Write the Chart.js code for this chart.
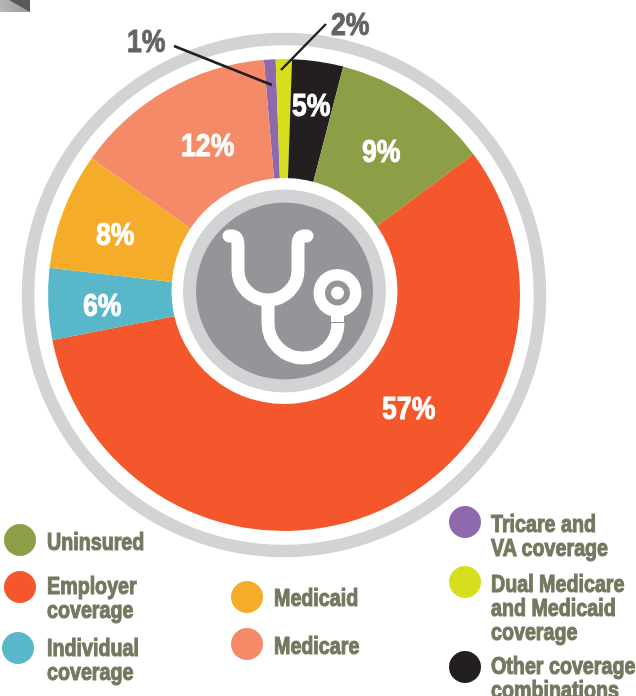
<!DOCTYPE html>
<html>
<head>
<meta charset="utf-8">
<script src="https://cdn.jsdelivr.net/npm/chart.js@4"></script>
<style>
  html, body { margin: 0; padding: 0; background: #fff; }
  #wrap { position: relative; width: 636px; height: 696px; overflow: hidden; }
  #wrap canvas { position: absolute; left: 0; top: 0; }
  .t { position: absolute; font-family: "Liberation Sans", sans-serif; font-weight: 700; white-space: pre; transform-origin: 0 0; }
  .pct { font-size: 31px; line-height: 31px; -webkit-text-stroke: 0.9px currentColor; transform: scaleX(0.86); }
  .leg { font-size: 24px; line-height: 24px; color: #74785f; -webkit-text-stroke: 1.1px currentColor; transform: scaleX(0.82); }
  .dot { position: absolute; width: 32px; height: 32px; border-radius: 50%; }
  #corner, #corner2 { position: absolute; left: 0; top: 0; width: 30px; height: 12px; }
  #corner { background: linear-gradient(90deg, #b5b6b8, #9a9b9d); }
  #corner2 { background: #58595b; clip-path: polygon(30% 0, 100% 0, 100% 100%); }
</style>
</head>
<body>
<div id="wrap">
  <div id="corner"></div>
  <div id="corner2"></div>
  <canvas id="grafica" width="636" height="696"></canvas>
</div>
<script>
const categorias = ['Tricare and VA coverage', 'Dual Medicare and Medicaid coverage', 'Other coverage combinations', 'Uninsured', 'Employer coverage', 'Individual coverage', 'Medicaid', 'Medicare'];
const valores = [0.8, 1.1, 3.5, 10.8, 57.1, 4.9, 8, 13.8];
const etiquetas = ['1%', '2%', '5%', '9%', '57%', '6%', '8%', '12%'];
const colores = ['#8e69ad', '#d5df1e', '#231f20', '#8c9f47', '#f3572b', '#58b7c8', '#f5ac28', '#f58a68'];

const posEtiquetas = [[127, 26], [331, 9], [292, 90], [362, 136], [382, 393], [83, 290], [96, 219], [181, 130]];
const colorEtiquetas = ['#636466', '#636466', '#fff', '#fff', '#fff', '#fff', '#fff', '#fff'];

const lineasLeyenda = [
  ['Tricare and', 'VA coverage'],
  ['Dual Medicare', 'and Medicaid', 'coverage'],
  ['Other coverage', 'combinations'],
  ['Uninsured'],
  ['Employer', 'coverage'],
  ['Individual', 'coverage'],
  ['Medicaid'],
  ['Medicare']
];
const posPuntos = [[465, 522], [465, 582], [465, 667], [20, 540], [20, 587], [18, 648], [247, 597], [247, 644]];
const posTextos = [[491, 512], [491, 572], [491, 654], [47, 530], [47, 574], [47, 636], [274, 586], [274, 634]];

const wrap = document.getElementById('wrap');

function addTexto(txt, x, y, clase, color) {
  const el = document.createElement('div');
  el.className = 't ' + clase;
  el.textContent = txt;
  el.style.left = x + 'px';
  el.style.top = y + 'px';
  if (color) el.style.color = color;
  wrap.appendChild(el);
}

etiquetas.forEach((e, i) => addTexto(e, posEtiquetas[i][0], posEtiquetas[i][1], 'pct', colorEtiquetas[i]));

lineasLeyenda.forEach((lineas, i) => {
  const d = document.createElement('div');
  d.className = 'dot';
  d.style.left = (posPuntos[i][0] - 16) + 'px';
  d.style.top = (posPuntos[i][1] - 16) + 'px';
  d.style.background = colores[i];
  wrap.appendChild(d);
  lineas.forEach((l, j) => addTexto(l, posTextos[i][0], posTextos[i][1] + j * 24, 'leg'));
});

// outer ring behind the slices
const anillo = {
  id: 'anillo',
  beforeDatasetsDraw(chart) {
    const { ctx } = chart;
    const p = chart.getDatasetMeta(0).data[0];
    ctx.save();
    ctx.beginPath();
    ctx.arc(p.x, p.y, 256, 0, Math.PI * 2);
    ctx.lineWidth = 12.5;
    ctx.strokeStyle = '#d1d3d4';
    ctx.stroke();
    ctx.restore();
  }
};

// centre badge, stethoscope and the two leader lines
const centro = {
  id: 'centro',
  afterDatasetsDraw(chart) {
    const { ctx } = chart;
    const circulo = (x, y, r, c) => {
      ctx.beginPath();
      ctx.arc(x, y, r, 0, Math.PI * 2);
      ctx.fillStyle = c;
      ctx.fill();
    };
    ctx.save();
    circulo(284.5, 291, 113, '#fff');
    circulo(284.5, 291, 101.5, '#d1d3d4');
    circulo(284.5, 291, 88.5, '#939598');

    ctx.strokeStyle = '#fff';
    ctx.lineWidth = 13;
    ctx.lineCap = 'round';
    ctx.beginPath();
    ctx.moveTo(229, 236);
    ctx.lineTo(233, 236);
    ctx.quadraticCurveTo(238, 237, 238, 246);
    ctx.lineTo(238, 270);
    ctx.arc(268, 270, 30, Math.PI, 0, true);
    ctx.lineTo(298, 246);
    ctx.quadraticCurveTo(298, 237, 303, 236);
    ctx.lineTo(307, 236);
    ctx.stroke();

    ctx.lineCap = 'butt';
    ctx.beginPath();
    ctx.moveTo(268, 300);
    ctx.lineTo(268, 323);
    ctx.arc(303, 323, 35, Math.PI, 0, true);
    ctx.lineTo(338, 323);
    ctx.stroke();

    circulo(337.5, 293, 24, '#fff');
    ctx.fillStyle = '#fff';
    ctx.fillRect(331, 312, 13, 10);
    circulo(337.5, 293, 12.5, '#939598');
    circulo(337.5, 293, 6.5, '#fff');

    ctx.strokeStyle = '#231f20';
    ctx.lineWidth = 2.5;
    ctx.beginPath();
    ctx.moveTo(174, 46);
    ctx.lineTo(272, 85);
    ctx.moveTo(326, 24);
    ctx.lineTo(281, 70);
    ctx.stroke();
    ctx.restore();
  }
};

new Chart(document.getElementById('grafica').getContext('2d'), {
  type: 'doughnut',
  data: {
    labels: categorias,
    datasets: [{
      label: 'Coverage',
      data: valores,
      backgroundColor: colores,
      borderWidth: 0
    }]
  },
  options: {
    responsive: false,
    animation: false,
    rotation: -4.9,
    cutout: 100,
    layout: { padding: { left: 48, right: 116, top: 59, bottom: 165 } },
    plugins: { legend: { display: false }, tooltip: { enabled: false } }
  },
  plugins: [anillo, centro]
});
</script>
</body>
</html>
